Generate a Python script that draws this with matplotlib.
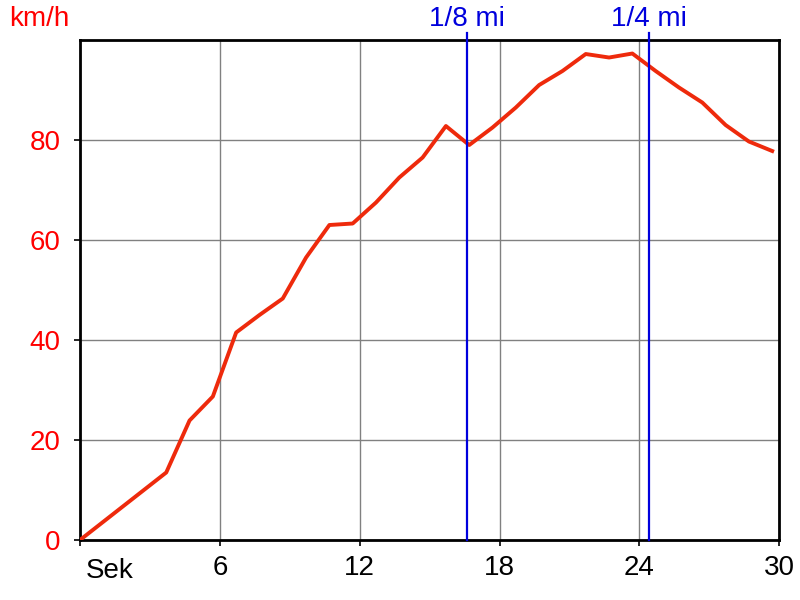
import numpy as np
import matplotlib.pyplot as plt

plt.rcParams['font.family'] = ['Liberation Sans', 'DejaVu Sans']

# speed run data
t_sec = [0, 3.7, 4.7, 5.7, 6.7, 7.7, 8.7, 9.7, 10.7, 11.7, 12.7, 13.7, 14.7,
         15.7, 16.7, 17.7, 18.7, 19.7, 20.7, 21.7, 22.7, 23.7, 24.7, 25.7,
         26.7, 27.7, 28.7, 29.7]
speed = [0, 13.5, 23.9, 28.7, 41.5, 45.0, 48.3, 56.5, 63.0, 63.3, 67.5, 72.5,
         76.5, 82.8, 79.0, 82.5, 86.5, 91.0, 93.8, 97.2, 96.5, 97.3, 93.8,
         90.5, 87.5, 83.0, 79.7, 77.8]
marks_t = [16.6, 24.4]
marks_lbl = ['1/8 mi', '1/4 mi']
xticks = [0, 6, 12, 18, 24, 30]
xticklabels = ['', '6', '12', '18', '24', '30']
yticks = [0, 20, 40, 60, 80]

red = '#ee2a0c'
blue = '#0000dd'
fs = 20

fig = plt.figure(figsize=(8, 6), dpi=100)
ax = fig.add_axes([0.1, 0.1, 0.874, 0.8333])
ax.set_xlim(0, 30)
ax.set_ylim(0, 100)

ax.grid(True, color='#808080', lw=1)
ax.set_axisbelow(True)

ax.plot(t_sec, speed, color=red, lw=2.8, solid_joinstyle='round', zorder=3)

for tm, lbl in zip(marks_t, marks_lbl):
    ax.plot([tm, tm], [0, 101.5], color=blue, lw=1.6, clip_on=False, zorder=4)
    ax.text(tm, 104.3, lbl, color=blue, fontsize=fs, ha='center', va='center')

ax.set_xticks(xticks)
ax.set_xticklabels(xticklabels)
ax.set_yticks(yticks)
ax.tick_params(axis='x', labelsize=fs, colors='black', length=4, width=1.2, pad=7)
ax.tick_params(axis='y', labelsize=fs, labelcolor='red', length=4, width=1.2, pad=10)
ax.text(0.25, -3.7, 'Sek', fontsize=fs, ha='left', va='top')
ax.text(-3.05, 104.3, 'km/h', color='red', fontsize=fs, ha='left', va='center',
        clip_on=False)

for s in ax.spines.values():
    s.set_linewidth(2)
    s.set_color('black')

fig.savefig('out.png', dpi=100)
